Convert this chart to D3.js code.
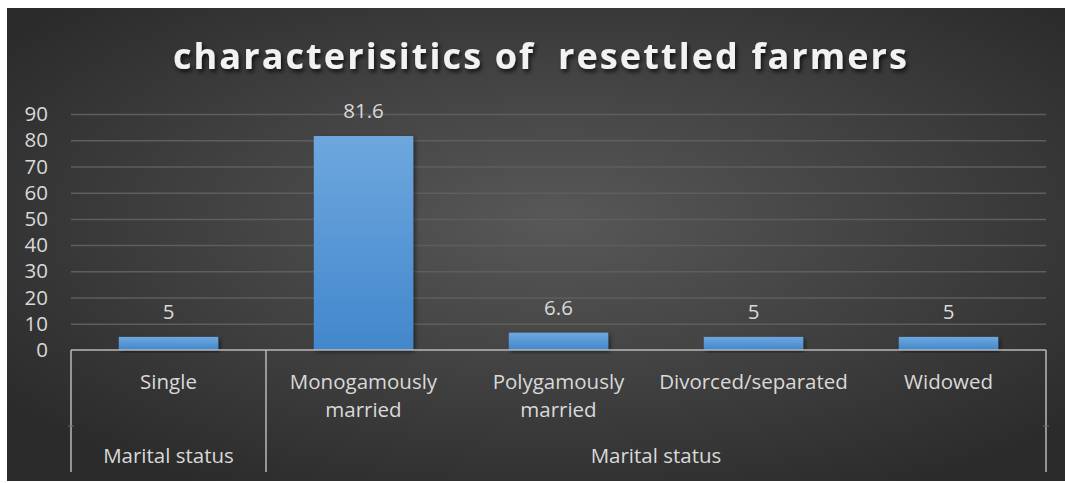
<!DOCTYPE html>
<html>
<head>
<meta charset="utf-8">
<script src="https://cdn.jsdelivr.net/npm/d3@7"></script>
<style>
  body { margin: 0; background: #fff; }
  text { font-family: "Open Sans", sans-serif; }
</style>
</head>
<body>
<svg id="chart" width="1065" height="483"></svg>
<script>
// data
var categories = ["Single", "Monogamously married", "Polygamously married", "Divorced/separated", "Widowed"];
var categoryLines = [["Single"], ["Monogamously", "married"], ["Polygamously", "married"], ["Divorced/separated"], ["Widowed"]];
var groupNames = ["Marital status", "Marital status"];
var groupIndex = [0, 1, 1, 1, 1];
var values = [5, 81.6, 6.6, 5, 5];
var yTicks = [0, 10, 20, 30, 40, 50, 60, 70, 80, 90];
var title = "characterisitics of  resettled farmers";

var vis = d3.select("#chart"), WIDTH = 1065, HEIGHT = 483;
var MARGINS = { top: 114, right: 19, bottom: 133, left: 71 };
var axisY = HEIGHT - MARGINS.bottom;
var labelSize = "20.5px";

var defs = vis.append("defs");
var bg = defs.append("radialGradient").attr("id", "bg")
  .attr("cx", "52%").attr("cy", "45%").attr("r", "65%");
bg.append("stop").attr("offset", "0%").attr("stop-color", "#585858");
bg.append("stop").attr("offset", "100%").attr("stop-color", "#2b2b2b");

var barGrad = defs.append("linearGradient").attr("id", "barGrad")
  .attr("x1", 0).attr("y1", 0).attr("x2", 0).attr("y2", 1);
barGrad.append("stop").attr("offset", "0%").attr("stop-color", "#6ea7de");
barGrad.append("stop").attr("offset", "100%").attr("stop-color", "#4287cc");

var shadow = defs.append("filter").attr("id", "shadow")
  .attr("x", "-10%").attr("y", "-10%").attr("width", "130%").attr("height", "130%");
shadow.append("feDropShadow").attr("dx", 2).attr("dy", 2).attr("stdDeviation", 2)
  .attr("flood-color", "#000").attr("flood-opacity", 0.5);

// chart area background
vis.append("rect").attr("x", 7).attr("y", 8).attr("width", WIDTH - 7).attr("height", 473)
  .attr("fill", "url(#bg)");

var xScale = d3.scaleBand().domain(categories)
  .range([MARGINS.left, WIDTH - MARGINS.right])
  .paddingInner(0.49).paddingOuter(0.245);
var yScale = d3.scaleLinear().domain([0, 90]).range([axisY, MARGINS.top]);

// gridlines
var yAxis = d3.axisLeft(yScale).tickValues(yTicks)
  .tickSize(-(WIDTH - MARGINS.left - MARGINS.right)).tickPadding(23);
var gy = vis.append("g").attr("transform", "translate(" + MARGINS.left + ",0)").call(yAxis);
gy.select(".domain").remove();
gy.selectAll(".tick line").attr("stroke", "#5e5e5e").attr("stroke-width", 1.5)
  .filter(function(d) { return d === 0; }).remove();
gy.selectAll(".tick text").attr("fill", "#d9d9d9").style("font-size", labelSize)
  .style("font-family", "'Open Sans', sans-serif");

// bars
vis.selectAll("rect.bar").data(values).enter().append("rect").attr("class", "bar")
  .attr("x", function(d, i) { return xScale(categories[i]); })
  .attr("y", function(d) { return yScale(d); })
  .attr("width", xScale.bandwidth())
  .attr("height", function(d) { return yScale(0) - yScale(d); })
  .attr("fill", "url(#barGrad)")
  .attr("filter", "url(#shadow)");

// value labels
vis.selectAll("text.val").data(values).enter().append("text").attr("class", "val")
  .attr("x", function(d, i) { return xScale(categories[i]) + xScale.bandwidth() / 2; })
  .attr("y", function(d) { return yScale(d) - 18; })
  .attr("text-anchor", "middle").attr("fill", "#d9d9d9").style("font-size", labelSize)
  .text(function(d) { return d; });

// category axis (two levels)
var axisColor = "#b8b8b8";
var bottomY = 472;
vis.append("line").attr("x1", MARGINS.left).attr("x2", WIDTH - MARGINS.right)
  .attr("y1", axisY).attr("y2", axisY).attr("stroke", axisColor).attr("stroke-width", 1.5);

var step = xScale.step();
var groupBounds = groupNames.map(function(g, gi) {
  var idx = groupIndex.map(function(v, i) { return v === gi ? i : -1; }).filter(function(i) { return i >= 0; });
  var x0 = xScale(categories[idx[0]]) - step * xScale.paddingInner() / 2;
  var x1 = xScale(categories[idx[idx.length - 1]]) + xScale.bandwidth() + step * xScale.paddingInner() / 2;
  return [x0, x1];
});
var seps = [groupBounds[0][0]].concat(groupBounds.map(function(b) { return b[1]; }));
vis.selectAll("line.sep").data(seps).enter().append("line").attr("class", "sep")
  .attr("x1", function(d) { return d; }).attr("x2", function(d) { return d; })
  .attr("y1", axisY).attr("y2", bottomY).attr("stroke", axisColor).attr("stroke-width", 1.5);

// faint ticks between the two label rows
vis.selectAll("line.rowtick").data([seps[0], seps[seps.length - 1]]).enter().append("line")
  .attr("class", "rowtick")
  .attr("x1", function(d) { return d - 3; }).attr("x2", function(d) { return d + 3; })
  .attr("y1", 426).attr("y2", 426).attr("stroke", "#6a6a6a").attr("stroke-width", 1);

var catLabels = vis.selectAll("text.cat").data(categoryLines).enter().append("text").attr("class", "cat")
  .attr("text-anchor", "middle").attr("fill", "#d9d9d9").style("font-size", labelSize);
catLabels.selectAll("tspan").data(function(d, i) {
  return d.map(function(line) { return { line: line, i: i }; });
}).enter().append("tspan")
  .attr("x", function(d) { return xScale(categories[d.i]) + xScale.bandwidth() / 2; })
  .attr("y", function(d, j) { return 389 + j * 28; })
  .text(function(d) { return d.line; });

vis.selectAll("text.grp").data(groupNames).enter().append("text").attr("class", "grp")
  .attr("x", function(d, i) { return (groupBounds[i][0] + groupBounds[i][1]) / 2; })
  .attr("y", 463).attr("text-anchor", "middle").attr("fill", "#d9d9d9").style("font-size", labelSize)
  .text(function(d) { return d; });

// title
var titleShadow = defs.append("filter").attr("id", "tshadow")
  .attr("x", "-5%").attr("y", "-30%").attr("width", "110%").attr("height", "160%");
titleShadow.append("feDropShadow").attr("dx", 2).attr("dy", 3).attr("stdDeviation", 2)
  .attr("flood-color", "#000").attr("flood-opacity", 0.7);
vis.append("text").attr("x", 541).attr("y", 69).attr("text-anchor", "middle")
  .attr("fill", "#f2f2f2").style("font-size", "36px").style("font-weight", "bold")
  .style("letter-spacing", "2.1px").style("white-space", "pre")
  .attr("filter", "url(#tshadow)")
  .text(title);
</script>
</body>
</html>
